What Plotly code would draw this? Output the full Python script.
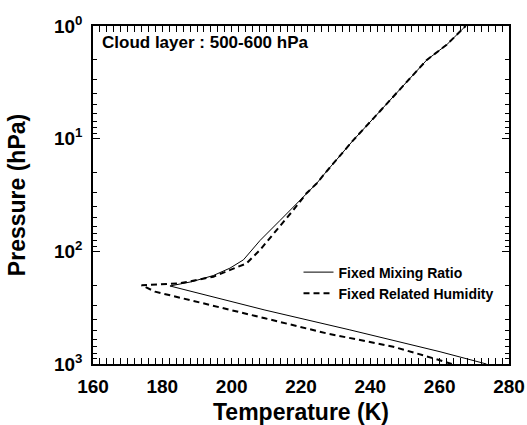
import plotly.graph_objects as go

# Fixed Mixing Ratio (solid)
T_fmr = [273.5, 260.1, 234.1, 209.6, 182.2, 188.5, 194.7, 199.5, 203.4, 208.2,
         214.0, 218.8, 224.5, 226.9, 235.1, 240.9, 246.6, 251.4, 256.3, 262.0, 267.5]
p_fmr = [1000, 778, 498, 332, 203, 186, 164, 141, 119, 80,
         53, 37.5, 25, 20.3, 10.3, 6.6, 4.24, 2.91, 2.0, 1.47, 1.0]

# Fixed Related Humidity (dashed)
T_frh = [263.5, 258.2, 246.6, 227.4, 209.6, 191.4, 177.9, 174.0, 185.1, 194.7,
         204.3, 208.2, 213.0, 217.8, 221.6, 224.5, 226.9, 235.1, 240.9, 246.6,
         251.4, 256.3, 262.0, 267.5]
p_frh = [1000, 890, 702, 535, 393, 289, 228, 200, 192, 168,
         128, 97, 64.7, 43, 30.5, 25, 20.3, 10.3, 6.6, 4.24,
         2.91, 2.0, 1.47, 1.0]

x_ticks = [160, 180, 200, 220, 240, 260, 280]
y_ticks = [1, 10, 100, 1000]
y_ticktext = ["10<sup>0</sup>", "10<sup>1</sup>", "10<sup>2</sup>", "10<sup>3</sup>"]
y_minor = [m * d for d in (1, 10, 100) for m in range(2, 10)]

FONT = "Liberation Sans, Arial, sans-serif"

fig = go.Figure()
fig.add_trace(go.Scatter(x=T_fmr, y=p_fmr, mode="lines", name="Fixed Mixing Ratio",
                         line=dict(color="black", width=1)))
fig.add_trace(go.Scatter(x=T_frh, y=p_frh, mode="lines", name="Fixed Related Humidity",
                         line=dict(color="black", width=2, dash="6px,4px")))
# invisible helper trace that carries the minor-tick y axis
fig.add_trace(go.Scatter(x=T_fmr, y=p_fmr, yaxis="y2", mode="lines", opacity=0,
                         line=dict(color="white", width=1), showlegend=False, hoverinfo="skip"))

fig.update_layout(
    width=527, height=425,
    margin=dict(l=93, r=18, t=26, b=61),
    paper_bgcolor="white", plot_bgcolor="white",
    font=dict(family=FONT, color="black"),
    showlegend=True,
    legend=dict(x=0.494, y=0.318, xanchor="left", yanchor="top",
                bgcolor="rgba(0,0,0,0)", font=dict(size=14, family=FONT, weight="bold"),
                tracegroupgap=0),
    annotations=[dict(text="<b>Cloud layer : 500-600 hPa</b>", xref="paper", yref="paper",
                      x=0.017, y=0.95, xanchor="left", yanchor="middle", showarrow=False,
                      font=dict(size=17, family=FONT, color="black"))],
    yaxis2=dict(type="log", range=[3, 0], overlaying="y", side="left",
                tickmode="array", tickvals=y_minor, showticklabels=False,
                ticks="inside", ticklen=4, tickwidth=1, tickcolor="black",
                showline=True, linecolor="black", linewidth=1.5, mirror="allticks",
                showgrid=False, zeroline=False, automargin=False),
)

fig.update_xaxes(
    range=[160, 280], tickmode="array", tickvals=x_ticks,
    ticks="inside", ticklen=6, tickwidth=1, tickcolor="black",
    minor=dict(ticks="inside", ticklen=3, dtick=2, tick0=160, tickcolor="black", showgrid=False),
    showline=True, linecolor="black", linewidth=1.5, mirror="allticks",
    showgrid=False, zeroline=False, ticklabelstandoff=4, automargin=False,
    tickfont=dict(size=19, family=FONT, weight="bold"),
    title=dict(text="<b>Temperature (K)</b>", font=dict(size=23, family=FONT), standoff=10),
)
fig.update_yaxes(
    selector=dict(overlaying=None),
    type="log", range=[3, 0], tickmode="array", tickvals=y_ticks, ticktext=y_ticktext,
    ticks="inside", ticklen=7, tickwidth=1, tickcolor="black",
    showline=True, linecolor="black", linewidth=1.5, mirror="allticks",
    showgrid=False, zeroline=False, ticklabelstandoff=5, automargin=False,
    tickfont=dict(size=19, family=FONT, weight="bold"),
    title=dict(text="<b>Pressure (hPa)</b>", font=dict(size=23, family=FONT), standoff=22),
)

fig.write_html("out.html")
